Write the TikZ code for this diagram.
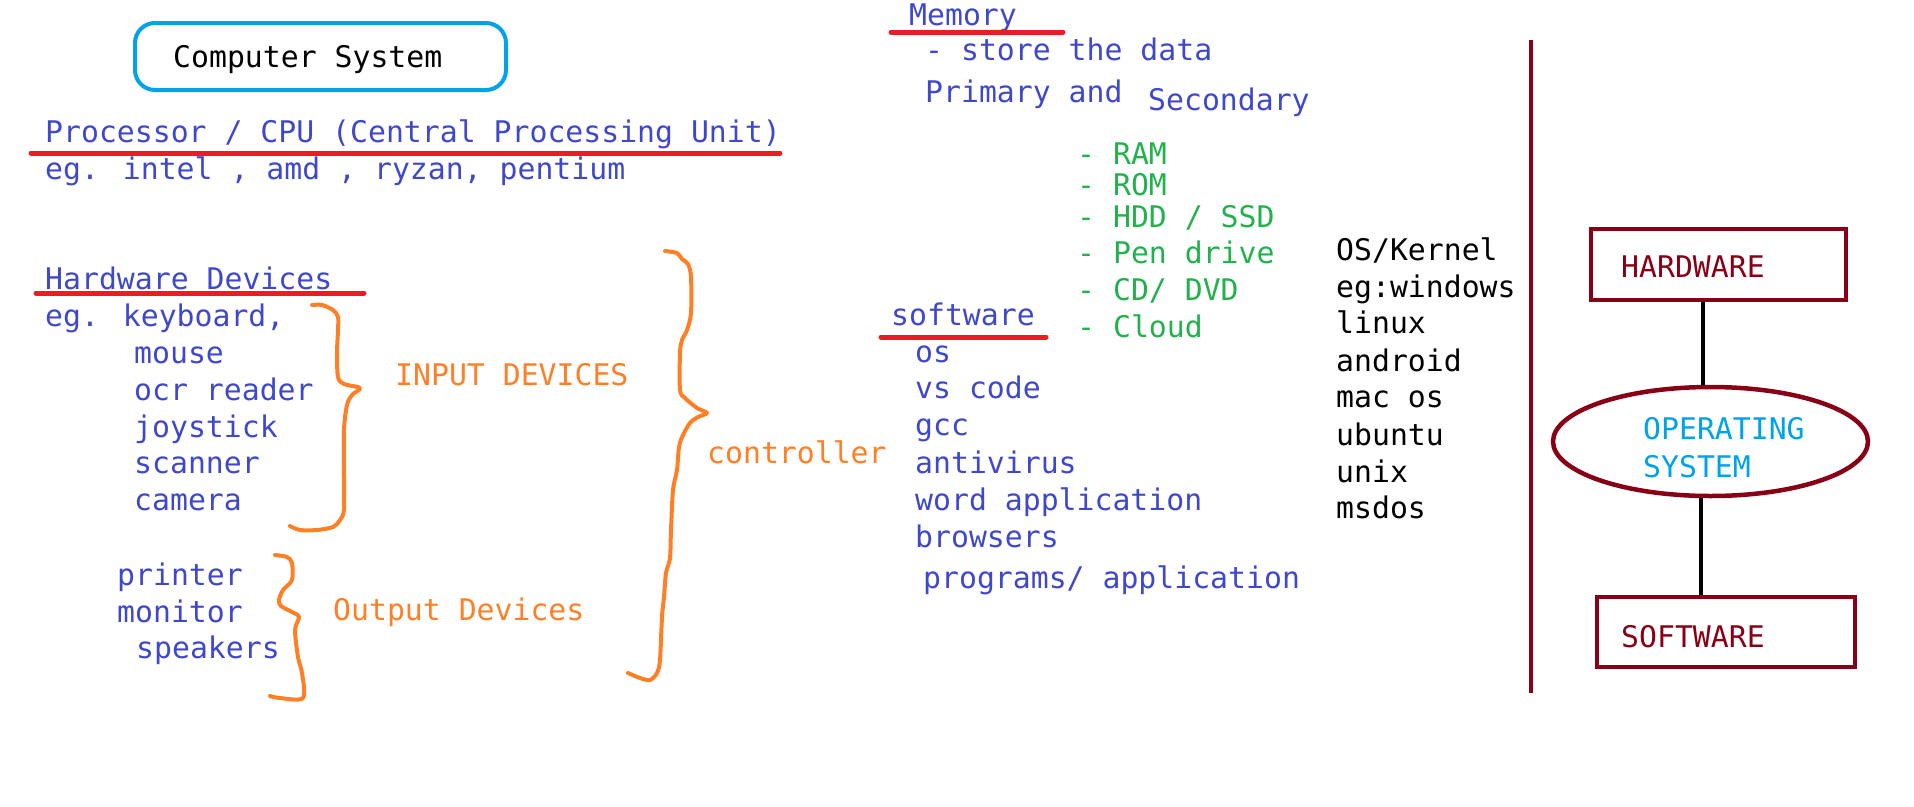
\documentclass[tikz,border=0pt]{standalone}
\usepackage{fontspec}
\setmainfont{DejaVu Sans Mono}
\usetikzlibrary{shapes.geometric}

\definecolor{penblue}{HTML}{3F48CC}
\definecolor{penred}{HTML}{ED1C24}
\definecolor{penorange}{HTML}{FF7F27}
\definecolor{pengreen}{HTML}{22B14C}
\definecolor{pencyan}{HTML}{00A2E8}
\definecolor{penmaroon}{HTML}{880015}

\tikzset{
  txt/.style={anchor=base west, inner sep=0pt, font=\fontsize{29.8}{36}\selectfont},
  bluetxt/.style={txt, text=penblue},
  greentxt/.style={txt, text=pengreen},
  orangetxt/.style={txt, text=penorange},
  maroontxt/.style={txt, text=penmaroon},
  uline/.style={draw=penred, line width=5pt, line cap=round},
  brace/.style={draw=penorange, line width=4pt, line cap=round, line join=round},
  osbox/.style={draw=penmaroon, line width=4.5pt, inner sep=0pt},
  link/.style={draw=black, line width=4pt}
}

\begin{document}
\begin{tikzpicture}[x=1pt,y=-1pt]
        \useasboundingbox (0,0) rectangle (1914,806);
        % title
        \draw[draw=pencyan, line width=4pt, rounded corners=20pt] (135,23) rectangle (506,90);
        \node[txt] (title) at (173,67) {Computer System};
        % processor
        \node[bluetxt] (cpu) at (45,142) {Processor / CPU (Central Processing Unit)};
        \draw[uline] (31,153) -- (780,153);
        \node[bluetxt] (cpueg) at (45,179) {eg. intel , amd , ryzan, pentium};
        % hardware devices
        \node[bluetxt] (hwdev) at (45,289) {Hardware Devices};
        \draw[uline] (36,293) -- (364,293);
        \node[bluetxt] (in0) at (45,326) {eg. keyboard,};
        \foreach \i/\t/\y in {1/mouse/363, 2/ocr reader/400, 3/joystick/437, 4/scanner/473, 5/camera/510}
          \node[bluetxt] (in\i) at (134,\y) {\t};
        \node[bluetxt] (out1) at (117,585) {printer};
        \node[bluetxt] (out2) at (117,622) {monitor};
        \node[bluetxt] (out3) at (136,658) {speakers};
        \draw[brace] plot[smooth, tension=0.5] coordinates {(312,305) (322,305) (333,310) (338,317) (338,330) (337,353) (338,377) (344,384) (360,388) (352,395) (347,405) (344,430) (344,477) (344,510) (340,520) (333,527) (317,530) (300,530) (290,526)};
        \node[orangetxt] (inlbl) at (395,385) {INPUT DEVICES};
        \draw[brace] plot[smooth, tension=0.5] coordinates {(275,555) (287,557) (292,563) (292,580) (283,590) (279,600) (281,606) (292,612) (299,617) (295,630) (298,657) (302,673) (303,698) (280,698) (270,696)};
        \node[orangetxt] (outlbl) at (333,620) {Output Devices};
        \draw[brace] plot[smooth, tension=0.5] coordinates {(665,251) (677,253) (682,259) (688,264) (691,277) (691,313) (687,330) (682,340) (680,353) (680,390) (685,398) (697,408) (707,413) (698,417) (690,423) (683,435) (679,447) (677,470) (673,490) (671,530) (670,558) (666,573) (664,597) (662,617) (660,660) (657,673) (650,680) (640,678) (628,673)};
        \node[orangetxt] (ctrl) at (707,463) {controller};
        % memory
        \node[bluetxt] (mem) at (909,25) {Memory};
        \draw[uline] (891,32) -- (1063,32);
        \node[bluetxt] (store) at (925,60) {- store the data};
        \node[bluetxt] (prim) at (925,102) {Primary and};
        \node[bluetxt] (sec) at (1148,110) {Secondary};
        \foreach \i/\t/\y in {1/RAM/164, 2/ROM/195, 3/{HDD / SSD}/227, 4/Pen drive/263, 5/{CD/ DVD}/300, 6/Cloud/337}
          \node[greentxt] (st\i) at (1077,\y) {- \t};
        % software
        \node[bluetxt] (soft) at (891,325) {software};
        \draw[uline] (881,337) -- (1046,337);
        \foreach \i/\t/\y in {1/os/362, 2/vs code/398, 3/gcc/435, 4/antivirus/473, 5/word application/510, 6/browsers/547}
          \node[bluetxt] (sw\i) at (915,\y) {\t};
        \node[bluetxt] (prog) at (923,588) {programs/ application};
        % operating systems
        \foreach \i/\t/\y in {1/{OS/Kernel}/260, 2/eg:windows/297, 3/linux/333, 4/android/371, 5/mac os/407, 6/ubuntu/445, 7/unix/482, 8/msdos/518}
          \node[txt] (os\i) at (1336,\y) {\t};
        \draw[draw=penmaroon, line width=4.5pt] (1531,40) -- (1531,693);
        % layers
        \node[osbox, minimum width=255pt, minimum height=71pt] (hw) at (1718.5,264.5) {};
        \node[maroontxt] (hwlbl) at (1621,277) {HARDWARE};
        \node[osbox, ellipse, minimum width=315pt, minimum height=109pt] (os) at (1710.5,441.5) {};
        \node[txt, text=pencyan] (oslbl1) at (1643,439) {OPERATING};
        \node[txt, text=pencyan] (oslbl2) at (1643,477) {SYSTEM};
        \node[osbox, minimum width=258pt, minimum height=70pt] (sw) at (1726,632) {};
        \node[maroontxt] (swlbl) at (1621,647) {SOFTWARE};
        \draw[link] ([xshift=-15.5pt]hw.south) -- ([xshift=-15.5pt]hw.south |- os.north);
        \draw[link] ([xshift=-9.5pt]os.south) -- ([xshift=-9.5pt]os.south |- sw.north);
\end{tikzpicture}
\end{document}
